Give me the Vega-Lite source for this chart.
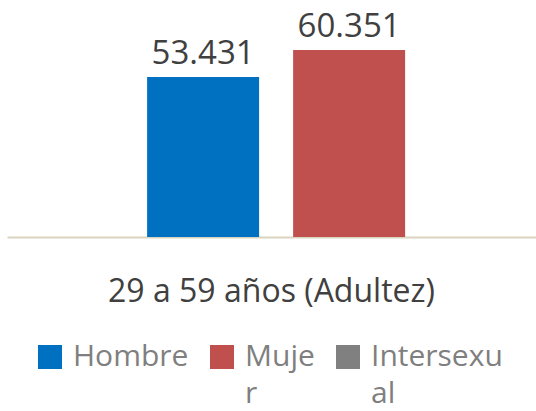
{
  "$schema": "https://vega.github.io/schema/vega-lite/v6.json",
  "width": 529,
  "height": 227,
  "autosize": {"type": "none"},
  "padding": {"left": 7, "top": 10, "right": 0, "bottom": 174},
  "background": "white",
  "config": {
    "view": {"stroke": null},
    "font": "Open Sans",
    "locale": {"number": {"decimal": ",", "thousands": ".", "grouping": [3], "currency": ["", " €"]}}
  },
  "data": {
    "values": [
      {"grupo": "29 a 59 años (Adultez)", "sexo": "Hombre", "valor": 53431},
      {"grupo": "29 a 59 años (Adultez)", "sexo": "Mujer", "valor": 60351},
      {"grupo": "29 a 59 años (Adultez)", "sexo": "Intersexual", "valor": null}
    ]
  },
  "encoding": {
    "x": {
      "field": "grupo",
      "type": "nominal",
      "scale": {"paddingInner": 0, "paddingOuter": 0},
      "axis": {
        "title": null,
        "ticks": false,
        "labelAngle": 0,
        "labelFontSize": 32,
        "labelColor": "#404040",
        "labelBaseline": "alphabetic",
        "labelPadding": 64,
        "labelLimit": 0,
        "domainColor": "#D9D4BF",
        "domainWidth": 2
      }
    },
    "xOffset": {
      "field": "sexo",
      "type": "nominal",
      "scale": {"domain": ["Hombre", "Mujer"], "paddingInner": 0.233, "paddingOuter": 0.928, "align": 0.517}
    },
    "y": {
      "field": "valor",
      "type": "quantitative",
      "scale": {"domain": [12400, 70600], "zero": false, "clamp": true, "nice": false},
      "axis": null
    }
  },
  "layer": [
    {
      "mark": {"type": "bar"},
      "encoding": {
        "color": {
          "field": "sexo",
          "type": "nominal",
          "scale": {"domain": ["Hombre", "Mujer", "Intersexual"], "range": ["#0070C0", "#C0504D", "#808080"]},
          "legend": {
            "orient": "none",
            "legendX": 28,
            "legendY": 332,
            "direction": "horizontal",
            "columns": 3,
            "title": null,
            "symbolType": "square",
            "symbolSize": 576,
            "symbolStrokeWidth": 0,
            "symbolOpacity": 1,
            "labelFontSize": 30,
            "labelColor": "#7F7F7F",
            "labelOffset": 8,
            "labelLimit": 0,
            "columnPadding": 18,
            "labelExpr": "datum.label == 'Mujer' ? ['Muje', 'r'] : datum.label == 'Intersexual' ? ['Intersexu', 'al'] : [datum.label, ' ']",
            "encode": {"labels": {"update": {"lineHeight": {"value": 37}}}}
          }
        }
      }
    },
    {
      "mark": {"type": "text", "baseline": "alphabetic", "dy": -13, "fontSize": 33, "color": "#404040"},
      "encoding": {"text": {"field": "valor", "type": "quantitative", "format": ",d"}}
    }
  ]
}
